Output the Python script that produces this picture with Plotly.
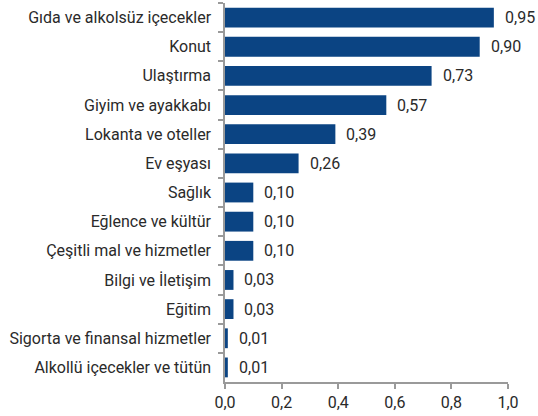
import plotly.graph_objects as go

categories = ["Gıda ve alkolsüz içecekler", "Konut", "Ulaştırma", "Giyim ve ayakkabı",
              "Lokanta ve oteller", "Ev eşyası", "Sağlık", "Eğlence ve kültür",
              "Çeşitli mal ve hizmetler", "Bilgi ve İletişim", "Eğitim",
              "Sigorta ve finansal hizmetler", "Alkollü içecekler ve tütün"]
values = [0.95, 0.90, 0.73, 0.57, 0.39, 0.26, 0.10, 0.10, 0.10, 0.03, 0.03, 0.01, 0.01]
tick_vals = [0, 0.2, 0.4, 0.6, 0.8, 1.0]

font_family = "Roboto, Liberation Sans, sans-serif"
text_color = "#2a2a2a"

fig = go.Figure(go.Bar(
    x=values, y=categories, orientation="h",
    marker=dict(color="#0B4483", line=dict(width=0)),
    width=0.68,
))

for c, v in zip(categories, values):
    fig.add_annotation(x=v, y=c, text=f"{v:.2f}".replace(".", ","), showarrow=False,
                       xanchor="left", xshift=9, font=dict(size=16, color=text_color, family=font_family))

fig.update_layout(
    width=538, height=416,
    margin=dict(l=225, r=30, t=3, b=34),
    plot_bgcolor="white", paper_bgcolor="white",
    separators=",.",
    showlegend=False,
    font=dict(family=font_family, size=16, color=text_color),
)
fig.update_xaxes(range=[0, 1.0], tickvals=tick_vals, tickformat=".1f",
                 showgrid=False, zeroline=False, showline=True, linecolor="#9a9a9a", linewidth=1.5,
                 ticks="outside", ticklen=5, tickcolor="#9a9a9a", tickwidth=1.5,
                 tickfont=dict(size=16, color=text_color))
fig.update_yaxes(autorange="reversed", categoryorder="array", categoryarray=categories,
                 showgrid=False, showline=True, linecolor="#9a9a9a", linewidth=1.5,
                 ticks="outside", tickson="boundaries", ticklen=5, tickcolor="#9a9a9a", tickwidth=1.5,
                 ticklabelstandoff=9,
                 tickfont=dict(size=16, color=text_color))

fig.write_html("out.html", config={"displayModeBar": False},
               post_script="document.body.style.margin='0';document.body.style.overflow='hidden';")
